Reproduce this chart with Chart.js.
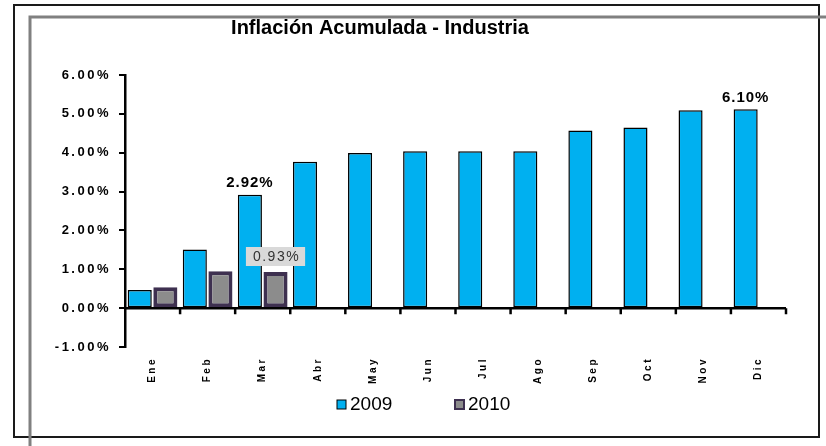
<!DOCTYPE html>
<html>
<head>
<meta charset="utf-8">
<script src="https://cdn.jsdelivr.net/npm/chart.js@4.4.1/dist/chart.umd.min.js"></script>
<style>
  html, body { margin: 0; padding: 0; background: #fff; }
  #wrap { position: relative; width: 826px; height: 446px; }
</style>
</head>
<body>
<div id="wrap"><canvas id="inflChart"></canvas></div>
<script>
// data
const months = ['Ene', 'Feb', 'Mar', 'Abr', 'May', 'Jun', 'Jul', 'Ago', 'Sep', 'Oct', 'Nov', 'Dic'];
const infl2009 = [0.47, 1.51, 2.92, 3.77, 3.99, 4.04, 4.04, 4.04, 4.57, 4.65, 5.09, 5.12];
const infl2010 = [0.54, 0.95, 0.93, null, null, null, null, null, null, null, null, null];
const labels2009 = [null, null, '2.92%', null, null, null, null, null, null, null, null, '6.10%'];
const labels2010 = [null, null, '0.93%', null, null, null, null, null, null, null, null, null];
const yTicks = { min: -1, max: 6, step: 1 };

const FONT = '"Liberation Sans", Arial, sans-serif';
const BLUE = '#00b0f0';
const GREY_BAR = '#8c8c8c';
const PURPLE = '#3e3050';

// frame, title, legend, zero line and value labels
const decor = {
  id: 'decor',
  beforeDraw(chart) {
    const ctx = chart.ctx;
    ctx.save();
    ctx.fillStyle = '#fff';
    ctx.fillRect(0, 0, chart.width, chart.height);
    // black outer frame
    ctx.strokeStyle = '#1a1a1a';
    ctx.lineWidth = 2;
    ctx.strokeRect(14, 5, 805, 432);
    // grey inner lines
    ctx.strokeStyle = '#808080';
    ctx.lineWidth = 3;
    ctx.beginPath();
    ctx.moveTo(30, 446);
    ctx.lineTo(30, 17);
    ctx.lineTo(826, 17);
    ctx.stroke();
    ctx.restore();
    // the axis labels look stretched in the picture
    ctx.letterSpacing = '2.5px';
  },
  beforeDatasetsDraw(chart) {
    chart.ctx.letterSpacing = '0px';
  },
  afterDatasetsDraw(chart) {
    const ctx = chart.ctx;
    const area = chart.chartArea;
    const y0 = chart.scales.y.getPixelForValue(0);
    ctx.save();
    // x axis on the zero line
    ctx.strokeStyle = '#000';
    ctx.lineWidth = 2.5;
    ctx.beginPath();
    ctx.moveTo(area.left, y0);
    ctx.lineTo(area.right, y0);
    const w = (area.right - area.left) / months.length;
    for (let i = 1; i <= months.length; i++) {
      const x = area.left + i * w;
      ctx.moveTo(x, y0);
      ctx.lineTo(x, y0 + 6);
    }
    ctx.stroke();

    // value labels
    const m09 = chart.getDatasetMeta(0);
    const m10 = chart.getDatasetMeta(1);
    ctx.textAlign = 'center';
    ctx.textBaseline = 'bottom';
    ctx.fillStyle = '#000';
    ctx.font = 'bold 15px ' + FONT;
    ctx.letterSpacing = '1px';
    labels2009.forEach((t, i) => {
      if (!t) return;
      const bar = m09.data[i];
      ctx.fillText(t, bar.x, bar.y - 4);
    });
    ctx.font = '14px ' + FONT;
    ctx.letterSpacing = '1.5px';
    labels2010.forEach((t, i) => {
      if (!t) return;
      const bar = m10.data[i];
      const tw = ctx.measureText(t).width;
      ctx.fillStyle = '#d9d9d9';
      ctx.fillRect(bar.x - tw / 2 - 6, bar.y - 25, tw + 12, 19);
      ctx.fillStyle = '#333';
      ctx.textBaseline = 'middle';
      ctx.fillText(t, bar.x + 1, bar.y - 15);
    });
    ctx.letterSpacing = '0px';

    // title
    ctx.fillStyle = '#000';
    ctx.textBaseline = 'middle';
    ctx.font = 'bold 20px ' + FONT;
    ctx.fillText('Inflación Acumulada - Industria', 380, 28);

    // legend
    ctx.font = '19px ' + FONT;
    ctx.textAlign = 'left';
    const items = [
      { text: '2009', x: 337, fill: BLUE, border: '#000', bw: 1 },
      { text: '2010', x: 455, fill: GREY_BAR, border: PURPLE, bw: 2 }
    ];
    items.forEach(it => {
      ctx.fillStyle = it.fill;
      ctx.fillRect(it.x, 400, 9, 9);
      ctx.strokeStyle = it.border;
      ctx.lineWidth = it.bw;
      ctx.strokeRect(it.x, 400, 9, 9);
      ctx.fillStyle = '#000';
      ctx.fillText(it.text, it.x + 13, 405);
    });
    ctx.restore();
  }
};

new Chart(document.getElementById('inflChart'), {
  type: 'bar',
  data: {
    labels: months,
    datasets: [
      {
        label: '2009',
        data: infl2009,
        backgroundColor: BLUE,
        borderColor: '#000',
        borderWidth: 1.5,
        borderSkipped: false,
        categoryPercentage: 0.93,
        barPercentage: 0.94
      },
      {
        label: '2010',
        data: infl2010,
        backgroundColor: GREY_BAR,
        borderColor: PURPLE,
        borderWidth: 4,
        borderSkipped: false,
        categoryPercentage: 0.93,
        barPercentage: 0.94
      }
    ]
  },
  options: {
    responsive: true,
    maintainAspectRatio: false,
    animation: false,
    events: [],
    layout: { padding: { top: 75, right: 40, bottom: 0, left: 0 } },
    plugins: {
      legend: { display: false },
      title: { display: false },
      tooltip: { enabled: false }
    },
    scales: {
      x: {
        grid: { display: false, drawTicks: false },
        border: { display: false },
        ticks: {
          autoSkip: false,
          minRotation: 90,
          maxRotation: 90,
          padding: 10,
          color: '#000',
          font: { family: FONT, size: 10, weight: 'bold' }
        },
        afterFit(scale) { scale.height = 99; }
      },
      y: {
        min: yTicks.min,
        max: yTicks.max,
        grid: { drawOnChartArea: false, tickLength: 6, color: '#000', lineWidth: 2 },
        border: { color: '#000', width: 2.5 },
        ticks: {
          stepSize: yTicks.step,
          padding: 8,
          color: '#000',
          font: { family: FONT, size: 13, weight: 'bold' },
          callback: v => v.toFixed(2) + '%'
        },
        afterFit(scale) { scale.width = 125; }
      }
    }
  },
  plugins: [decor]
});
</script>
</body>
</html>
